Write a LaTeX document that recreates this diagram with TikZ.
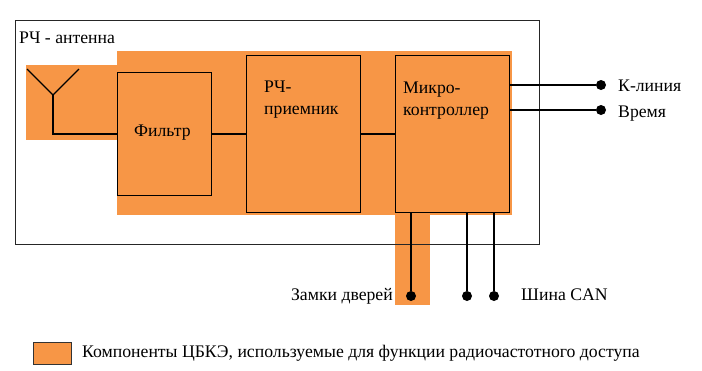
\documentclass[tikz,border=0pt]{standalone}
\usepackage{fontspec}
\setmainfont{Liberation Serif}
\definecolor{rfor}{HTML}{F79646}
\begin{document}
\begin{tikzpicture}[x=1pt,y=-1pt,
  blk/.style={draw=black,line width=1.3pt,fill=rfor,inner sep=0pt,anchor=north west},
  wire/.style={draw=black,line width=1.2pt},
  lbl/.style={font=\fontsize{17.7}{22}\selectfont,inner sep=0pt,anchor=base west},
  dotn/.style={circle,fill=black,inner sep=0pt,minimum size=10pt}]
\useasboundingbox (0,0) rectangle (702,370);
% orange areas
\fill[rfor] (117,51) rectangle (512,215);
\fill[rfor] (26,65) rectangle (117,140);
\fill[rfor] (395,215) rectangle (430,305);
% outer box
\draw[black!85,line width=0.9pt] (15,20) rectangle (539,244);
\node[lbl] (ant) at (19,43) {РЧ - антенна};
% blocks
\node[blk,minimum width=94pt,minimum height=123pt] (flt) at (117,72) {};
\node[lbl] (fltt) at (134,136) {Фильтр};
\node[blk,minimum width=114pt,minimum height=157pt] (rx) at (246,55) {};
\node[lbl,align=left] (rxt) at (264,114) {РЧ-\\приемник};
\node[blk,minimum width=114pt,minimum height=157pt] (mc) at (395,55) {};
\node[lbl,align=left] (mct) at (403,115) {Микро-\\контроллер};
% antenna
\coordinate (a1) at (27,69);
\coordinate (a2) at (79,69);
\coordinate (a0) at (53,95);
\coordinate (a3) at (53,134);
\draw[wire] (a1) -- (a0) -- (a2);
\draw[wire] (a0) -- (a3) -- (flt.west |- a3);
\draw[wire] (flt.east |- a3) -- (rx.west |- a3);
\draw[wire] (rx.east |- a3) -- (mc.west |- a3);
% right outputs
\node[dotn] (k) at (601,85) {};
\node[dotn] (t) at (601,110) {};
\draw[wire] (mc.east |- k) -- (k);
\draw[wire] (mc.east |- t) -- (t);
\node[lbl] (kt) at (618,91) {К-линия};
\node[lbl] (tt) at (618,117) {Время};
% bottom outputs
\node[dotn] (d1) at (411,296) {};
\node[dotn] (c1) at (467,296) {};
\node[dotn] (c2) at (494,296) {};
\draw[wire] (mc.south -| d1) -- (d1);
\draw[wire] (mc.south -| c1) -- (c1);
\draw[wire] (mc.south -| c2) -- (c2);
\node[lbl,anchor=base east] (dt) at (393,300) {Замки дверей};
\node[lbl] (ct) at (521,300) {Шина CAN};
% legend
\node[draw=black!80,line width=0.9pt,fill=rfor,minimum width=38pt,minimum height=22pt,inner sep=0pt,anchor=north west] (leg) at (33,342) {};
\node[lbl] (legt) at (82,357) {Компоненты ЦБКЭ, используемые для функции радиочастотного доступа};
\end{tikzpicture}
\end{document}
